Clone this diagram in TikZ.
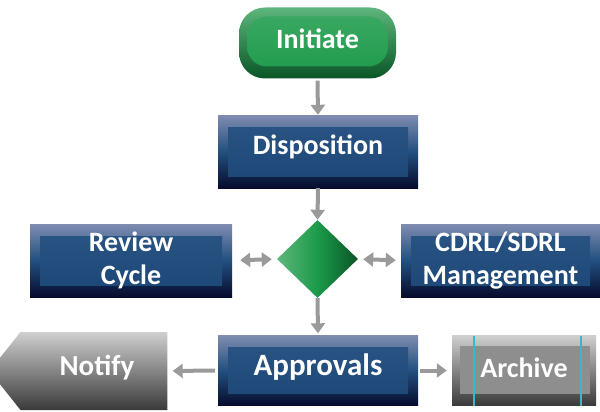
\documentclass[tikz,border=0pt]{standalone}
\usepackage{fontspec}
\setmainfont{Carlito}
\usetikzlibrary{shapes.geometric,shapes.symbols,arrows.meta}
\definecolor{navyTop}{HTML}{7F8CB0}
\definecolor{navyMid}{HTML}{22507F}
\definecolor{navyBot}{HTML}{060B2C}
\definecolor{navyInTop}{HTML}{2A5585}
\definecolor{navyInBot}{HTML}{1B4676}
\definecolor{greenTop}{HTML}{5DB67C}
\definecolor{greenMid}{HTML}{1C9A4A}
\definecolor{greenBot}{HTML}{0A5526}
\definecolor{grayTop}{HTML}{CFCFCF}
\definecolor{grayMid}{HTML}{8E8E8E}
\definecolor{grayBot}{HTML}{3A3A3A}
\definecolor{arrowGray}{HTML}{9A9A9A}
\definecolor{cyanLine}{HTML}{3CB6C8}
\tikzset{
  navybox/.style={rectangle, minimum width=#1, top color=navyTop, bottom color=navyBot, middle color=navyMid,
    text=white, font=\bfseries\fontsize{28}{30}\selectfont, align=center, inner sep=0pt,
    path picture={\shade[top color=navyInTop, bottom color=navyInBot] ([shift={(10pt,-12pt)}]path picture bounding box.north west) rectangle ([shift={(-10pt,12pt)}]path picture bounding box.south east);}},
  flowarrow/.style={draw=arrowGray, line width=4pt, -{Triangle[width=14pt,length=10pt]}},
  duoarrow/.style={draw=arrowGray, line width=4pt, {Triangle[width=14pt,length=10pt]}-{Triangle[width=14pt,length=10pt]}},
}
\begin{document}
\begin{tikzpicture}[x=1pt,y=-1pt]
\useasboundingbox (0,0) rectangle (600,412);
% Initiate
\node[rectangle, rounded corners=26pt, minimum width=157pt, minimum height=71pt, inner sep=0pt,
  top color=greenTop, middle color=greenMid, bottom color=greenBot, text=white,
  font=\bfseries\fontsize{28}{30}\selectfont, text depth=9pt,
  path picture={\shade[top color=greenMid!85!white, bottom color=greenMid, rounded corners=20pt] ([shift={(8pt,-9pt)}]path picture bounding box.north west) rectangle ([shift={(-8pt,12pt)}]path picture bounding box.south east);}]
  (init) at (317.5,43) {Initiate};
% Disposition
\node[navybox=200pt, minimum height=73pt, text depth=14pt] (disp) at (318,151.5) {Disposition};
% Decision diamond
\node[diamond, minimum width=81pt, minimum height=78pt, inner sep=0pt, aspect=1,
  shading angle=135, left color=greenTop, right color=greenBot, middle color=greenMid] (dec) at (317.5,259) {};
% Review Cycle
\node[navybox=202pt, minimum height=73pt, font=\bfseries\fontsize{28}{33}\selectfont] (rev) at (131,260.5) {Review\\Cycle};
% CDRL
\node[navybox=199pt, minimum height=73pt, font=\bfseries\fontsize{28}{33}\selectfont] (cdrl) at (500.5,260.5) {CDRL/SDRL\\Management};
% Approvals
\node[navybox=200pt, minimum height=70pt, font=\bfseries\fontsize{31}{32}\selectfont, text depth=12pt] (appr) at (318,370.5) {Approvals};
% Notify
\node[signal, signal to=west, signal pointer angle=103, minimum width=178pt, minimum height=78pt, inner sep=0pt,
  top color=grayTop, middle color=grayMid, bottom color=grayBot, text width=0pt] (notify) at (94,371) {};
\node[text=white, font=\bfseries\fontsize{29}{30}\selectfont] (notifytext) at (97,368) {Notify};
% Archive
\node[rectangle, minimum width=144pt, minimum height=70pt, inner sep=0pt,
  top color=grayTop, middle color=grayMid, bottom color=grayBot, text=white,
  font=\bfseries\fontsize{28}{30}\selectfont, text depth=5pt,
  path picture={\fill[grayMid] ([shift={(8pt,-10pt)}]path picture bounding box.north west) rectangle ([shift={(-6pt,12pt)}]path picture bounding box.south east);
    \draw[cyanLine, line width=1.5pt] ([xshift=22pt]path picture bounding box.north west) -- ([xshift=22pt]path picture bounding box.south west);
    \draw[cyanLine, line width=1.5pt] ([xshift=-15pt]path picture bounding box.north east) -- ([xshift=-15pt]path picture bounding box.south east);}]
  (arch) at (524,370.5) {Archive};
% connectors
\draw[flowarrow] ([yshift=-2pt]init.south) -- (disp.north);
\draw[flowarrow] (disp.south) -- (dec.north);
\draw[flowarrow] (dec.south) -- ([yshift=2pt]appr.north);
\draw[duoarrow, shorten <=8pt, shorten >=5pt] (rev.east) -- (dec.west);
\draw[duoarrow, shorten <=5pt, shorten >=5pt] (dec.east) -- (cdrl.west);
\draw[flowarrow, shorten <=3pt, shorten >=5pt] (appr.west) -- (notify.east);
\draw[flowarrow, shorten <=2pt, shorten >=5pt] (appr.east) -- (arch.west);
\end{tikzpicture}
\end{document}
